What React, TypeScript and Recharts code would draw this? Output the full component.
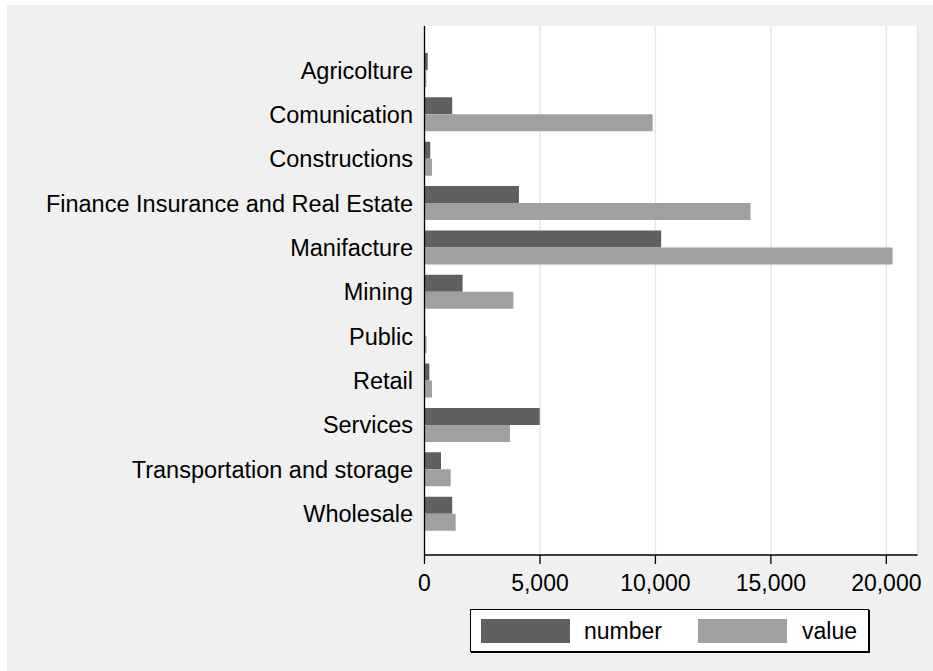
import { BarChart, Bar, XAxis, YAxis, CartesianGrid } from "recharts";

const sectors = [
  "Agricolture",
  "Comunication",
  "Constructions",
  "Finance Insurance and Real Estate",
  "Manifacture",
  "Mining",
  "Public",
  "Retail",
  "Services",
  "Transportation and storage",
  "Wholesale",
];
const numberVals = [140, 1200, 250, 4090, 10250, 1650, 30, 210, 4990, 715, 1200];
const valueVals = [80, 9880, 325, 14120, 20270, 3850, 90, 325, 3700, 1135, 1350];
const xTicks = [0, 5000, 10000, 15000, 20000];
const seriesNames = ["number", "value"];

const data = sectors.map((s, i) => ({ sector: s, number: numberVals[i], value: valueVals[i] }));

const colors = ["#606060", "#a0a0a0"];
const font = "'Liberation Sans', Arial, sans-serif";

export default function App() {
  return (
    <div
      style={{
        position: "absolute",
        left: 7,
        top: 5,
        width: 926,
        height: 666,
        background: "#f0f0f0",
        fontFamily: font,
      }}
    >
      <BarChart
        width={926}
        height={666}
        data={data}
        layout="vertical"
        margin={{ top: 21, right: 15.5, left: 0, bottom: 56 }}
        barGap={0}
        barSize={17}
      >
        <CartesianGrid horizontal={false} stroke="#e6e6e6" strokeWidth={1.5} fill="#ffffff" fillOpacity={1} />
        <XAxis
          type="number"
          domain={[0, 21350]}
          ticks={xTicks}
          tickFormatter={(v: number) => v.toLocaleString("en-US")}
          height={60}
          tickSize={9}
          tickMargin={11}
          stroke="#000"
          strokeWidth={1.3}
          tick={{ fill: "#000", fontSize: 23, fontFamily: font }}
          allowDataOverflow
        />
        <YAxis
          type="category"
          dataKey="sector"
          width={417.5}
          tickSize={0}
          tickMargin={11.5}
          padding={{ top: 22, bottom: 19 }}
          stroke="#000"
          strokeWidth={1.3}
          interval={0}
          tick={{ fill: "#000", fontSize: 23.5, fontFamily: font }}
        />
        <Bar dataKey="number" fill={colors[0]} isAnimationActive={false} />
        <Bar dataKey="value" fill={colors[1]} isAnimationActive={false} />
      </BarChart>
      <div
        style={{
          position: "absolute",
          left: 463,
          top: 604,
          width: 399,
          height: 43,
          boxSizing: "border-box",
          border: "1px solid #000",
          boxShadow: "1px 1px 0 #000",
          background: "#fff",
        }}
      >
        {seriesNames.map((name, i) => (
          <div key={name}>
            <div
              style={{
                position: "absolute",
                left: 10 + i * 217,
                top: 9,
                width: 89,
                height: 24,
                background: colors[i],
              }}
            />
            <div
              style={{
                position: "absolute",
                left: i === 0 ? 113 : 331,
                top: 7,
                fontSize: 23,
                lineHeight: "28px",
                color: "#000",
              }}
            >
              {name}
            </div>
          </div>
        ))}
      </div>
    </div>
  );
}
